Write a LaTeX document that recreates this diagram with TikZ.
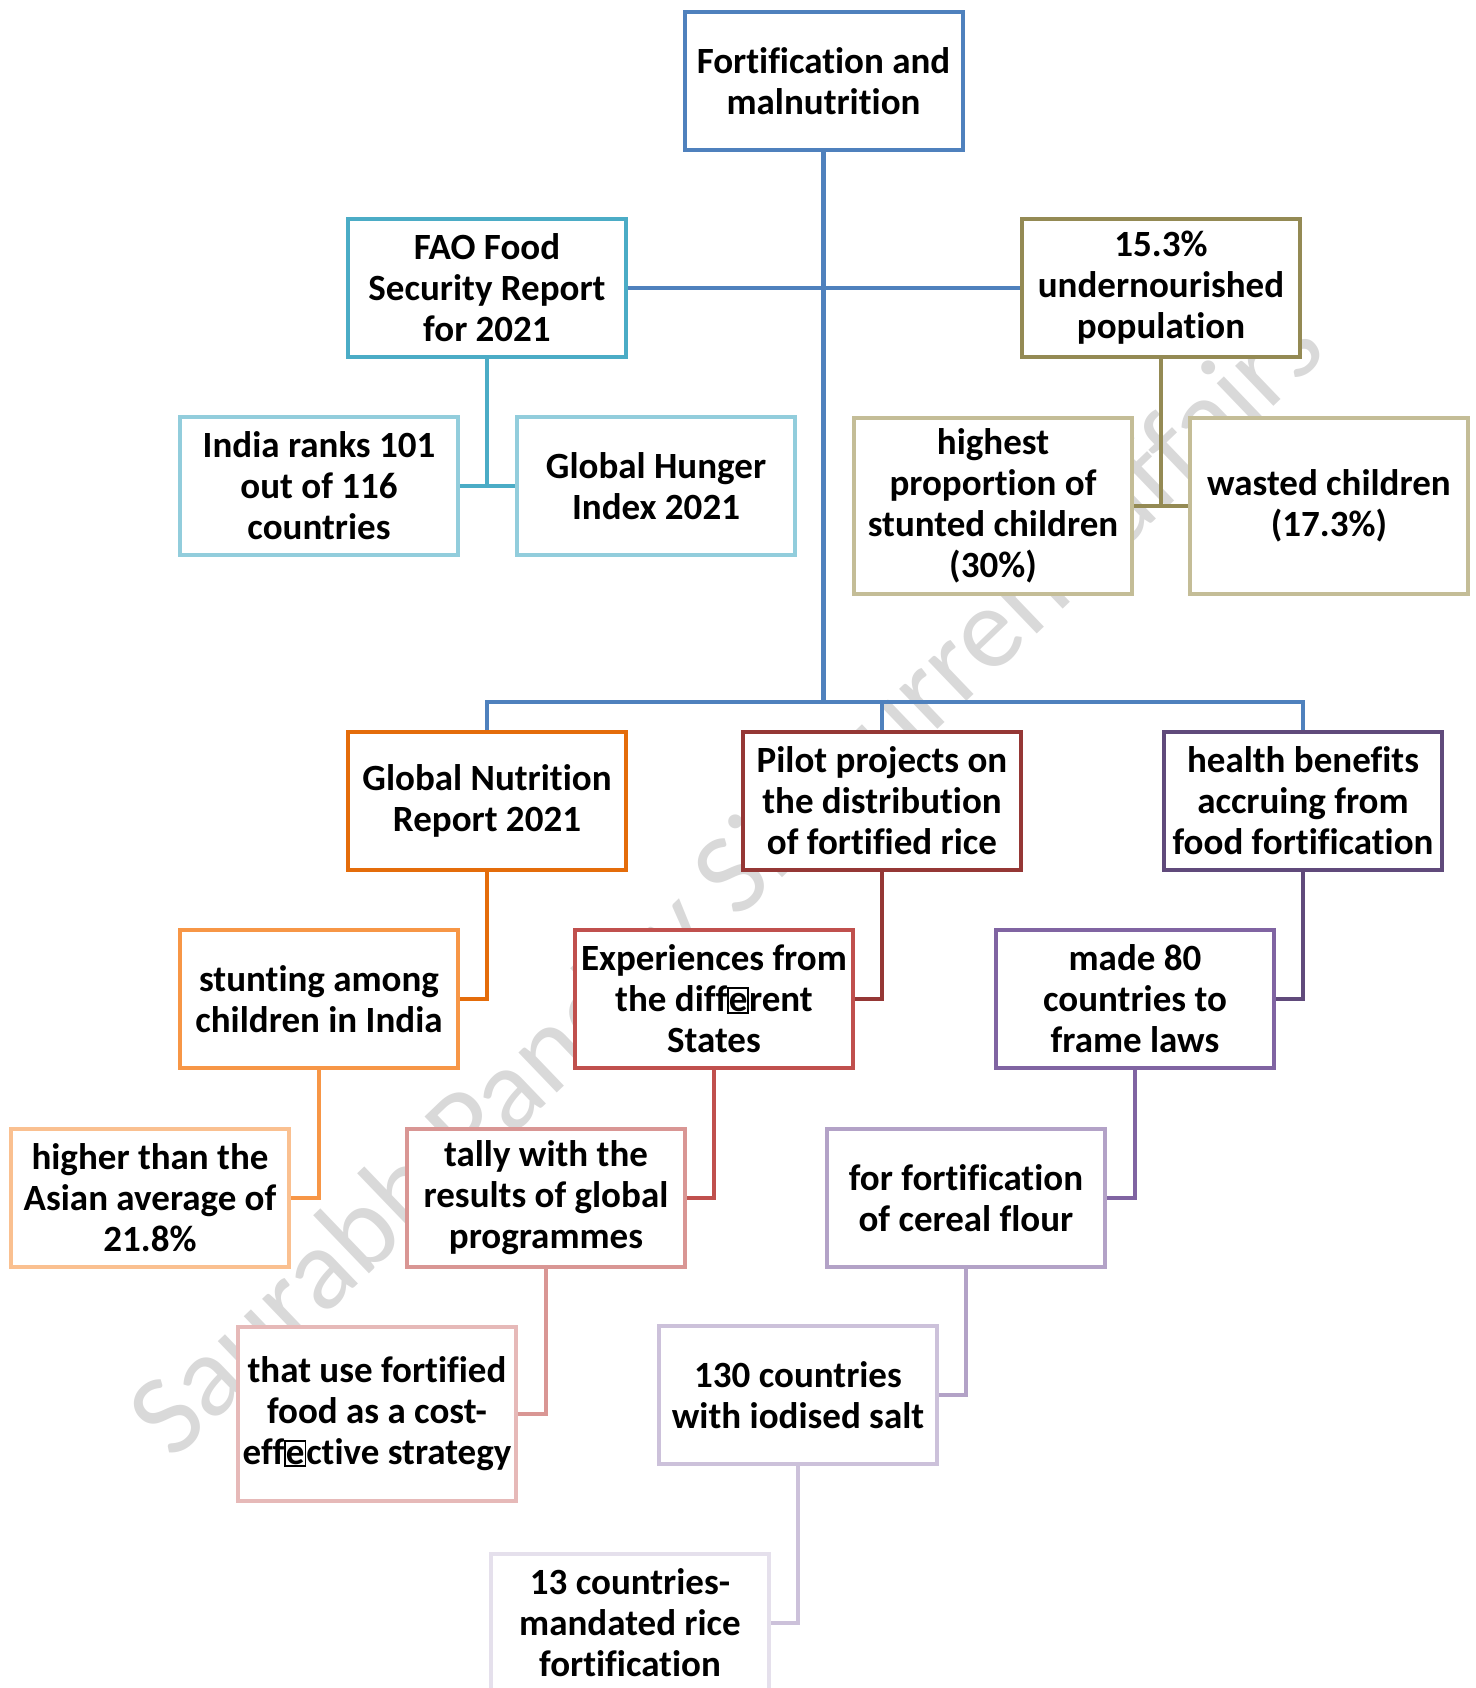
\documentclass[tikz,border=0pt]{standalone}
\usepackage{fontspec}
\setmainfont{Carlito}[Ligatures=NoCommon]
\definecolor{cTop}{HTML}{4F81BD}
\definecolor{cFao}{HTML}{4BACC6}
\definecolor{cFaoL}{HTML}{92CDDC}
\definecolor{cPop}{HTML}{948A54}
\definecolor{cPopL}{HTML}{C4BD97}
\definecolor{cO1}{HTML}{E46C0A}
\definecolor{cO2}{HTML}{F79646}
\definecolor{cO3}{HTML}{FAC090}
\definecolor{cR1}{HTML}{953735}
\definecolor{cR2}{HTML}{C0504D}
\definecolor{cR3}{HTML}{D99694}
\definecolor{cR4}{HTML}{E6B9B8}
\definecolor{cP1}{HTML}{604A7B}
\definecolor{cP2}{HTML}{8064A2}
\definecolor{cP3}{HTML}{B3A2C7}
\definecolor{cP4}{HTML}{CCC1DA}
\definecolor{cP5}{HTML}{E5E0EC}
\definecolor{cWm}{HTML}{D9D9D9}
\newcommand{\gbox}[1]{{\setlength{\fboxsep}{0pt}\setlength{\fboxrule}{0.8pt}\fbox{\rule{0pt}{0.62em}#1}}}
\tikzset{
  box/.style={draw=#1, line width=2pt, fill=white, rectangle,
    minimum width=139pt, minimum height=69pt, inner sep=0pt, align=center,
    font=\fontsize{18.5}{20.5}\selectfont\bfseries},
  conn/.style={draw=#1, line width=2.25pt},
}
\begin{document}
\begin{tikzpicture}[x=0.5pt,y=-0.5pt]
\useasboundingbox (0,0) rectangle (1476,1688);
% watermark
\node[text=cWm, rotate=43.8, font=\fontsize{58}{60}\selectfont, inner sep=0pt] (wm) at (730,885) {Saurabh Pandey Sir Current affairs};
% boxes
\node[box=cTop] (top) at (823.5,81) {Fortification and\\malnutrition};
\node[box=cFao] (fao) at (487,288) {FAO Food\\Security Report\\for 2021};
\node[box=cPop] (pop) at (1161,288) {15.3\%\\undernourished\\population};
\node[box=cFaoL] (india) at (319,486) {India ranks 101\\out of 116\\countries};
\node[box=cFaoL] (ghi) at (656,486) {Global Hunger\\Index 2021};
\node[box=cPopL, minimum height=88pt] (highest) at (993,506) {highest\\proportion of\\stunted children\\(30\%)};
\node[box=cPopL, minimum height=88pt] (wasted) at (1329,506) {wasted children\\(17.3\%)};
\node[box=cO1] (gnr) at (487,801) {Global Nutrition\\Report 2021};
\node[box=cR1] (pilot) at (882,801) {Pilot projects on\\the distribution\\of fortified rice};
\node[box=cP1] (health) at (1303,801) {health benefits\\accruing from\\food fortification};
\node[box=cO2] (stunting) at (319,999) {stunting among\\children in India};
\node[box=cR2] (exper) at (714,999) {Experiences from\\the diff\gbox{e}rent\\States};
\node[box=cP2] (made) at (1135,999) {made 80\\countries to\\frame laws};
\node[box=cO3] (higher) at (150,1198) {higher than the\\Asian average of\\21.8\%};
\node[box=cR3] (tally) at (546,1198) {tally with the\\results of global\\programmes};
\node[box=cP3] (cereal) at (966,1198) {for fortification\\of cereal flour};
\node[box=cR4, minimum height=87pt] (thatuse) at (377,1414) {that use fortified\\food as a cost-\\eff\gbox{e}ctive strategy};
\node[box=cP4] (salt) at (798,1395) {130 countries\\with iodised salt};
\node[box=cP5] (thirteen) at (630,1623) {13 countries-\\mandated rice\\fortification};
% connectors
\coordinate (bus) at (823.5,702);
\draw[conn=cTop] (top.south) -- (bus);
\draw[conn=cTop] (fao.east) -- (pop.west);
\draw[conn=cTop] (gnr.north) |- (bus) -| (health.north);
\draw[conn=cTop] (pilot.north) -- (pilot.north |- bus);
\draw[conn=cFao] (fao.south) -- (fao.south |- india.east);
\draw[conn=cFao] (india.east) -- (ghi.west);
\draw[conn=cPop] (pop.south) -- (pop.south |- highest.east);
\draw[conn=cPop] (highest.east) -- (wasted.west);
\draw[conn=cO1] (gnr.south) |- (stunting.east);
\draw[conn=cO2] (stunting.south) |- (higher.east);
\draw[conn=cR1] (pilot.south) |- (exper.east);
\draw[conn=cR2] (exper.south) |- (tally.east);
\draw[conn=cR3] (tally.south) |- (thatuse.east);
\draw[conn=cP1] (health.south) |- (made.east);
\draw[conn=cP2] (made.south) |- (cereal.east);
\draw[conn=cP3] (cereal.south) |- (salt.east);
\draw[conn=cP4] (salt.south) |- (thirteen.east);
\end{tikzpicture}
\end{document}
